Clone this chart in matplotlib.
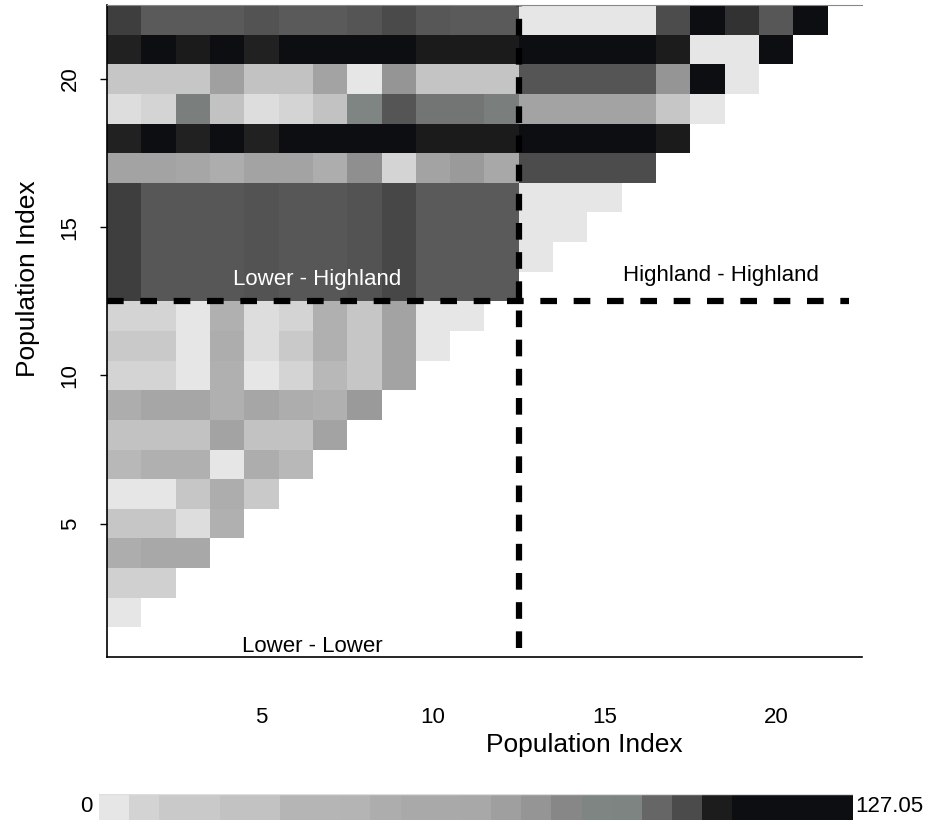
import numpy as np
import matplotlib
matplotlib.use("Agg")
import matplotlib.pyplot as plt
from matplotlib.colors import LinearSegmentedColormap

plt.rcParams['font.family'] = ['Liberation Sans', 'DejaVu Sans']
plt.rcParams['lines.scale_dashes'] = False

# pairwise values, lower triangle: row j holds columns 1..j-1
rows = [
    [2.0],
    [9.1, 9.1],
    [48.3, 64.1, 64.1],
    [20.0, 20.0, 5.0, 46.4],
    [2.0, 2.0, 20.0, 48.3, 15.0],
    [31.8, 46.4, 46.4, 2.0, 48.3, 31.8],
    [25.0, 25.0, 25.0, 66.9, 25.0, 25.0, 66.9],
    [48.3, 65.2, 65.2, 46.4, 65.2, 48.3, 46.4, 71.4],
    [7.6, 7.6, 2.0, 46.4, 2.0, 7.6, 31.8, 20.0, 66.9],
    [15.0, 15.0, 2.0, 48.3, 5.0, 15.0, 46.4, 20.0, 66.9, 2.0],
    [7.6, 7.6, 2.0, 46.4, 5.0, 7.6, 46.4, 20.0, 66.9, 2.0, 2.0],
    [100.6, 97.0, 97.0, 97.0, 97.9, 97.0, 97.0, 97.9, 99.6, 96.4, 96.4, 96.4],
    [100.6, 97.0, 97.0, 97.0, 97.9, 97.0, 97.0, 97.9, 99.6, 96.4, 96.4, 96.4, 2.0],
    [100.6, 97.0, 97.0, 97.0, 97.9, 97.0, 97.0, 97.9, 99.6, 96.4, 96.4, 96.4, 2.0, 2.0],
    [100.6, 97.0, 97.0, 97.0, 97.9, 97.0, 97.0, 97.9, 99.6, 96.4, 96.4, 96.4, 2.0, 2.0, 2.0],
    [66.9, 66.9, 65.2, 48.3, 66.9, 66.9, 48.3, 76.0, 7.6, 66.9, 71.4, 64.1,
     99.1, 99.1, 99.1, 99.1],
    [103.6, 118.0, 103.6, 118.0, 103.6, 118.0, 118.0, 118.0, 118.0, 104.4, 104.4, 104.4,
     118.0, 118.0, 118.0, 118.0, 104.4],
    [5.0, 7.6, 89.9, 25.0, 5.0, 7.6, 25.0, 86.0, 97.5, 91.5, 91.5, 89.9,
     66.9, 66.9, 66.9, 66.9, 20.0, 2.0],
    [20.0, 20.0, 20.0, 68.6, 25.0, 25.0, 66.9, 2.0, 73.7, 21.4, 21.4, 21.4,
     97.5, 97.5, 97.5, 97.5, 73.7, 118.0, 2.0],
    [103.6, 118.0, 104.4, 118.0, 103.6, 118.0, 118.0, 118.0, 118.0, 104.4, 104.4, 104.4,
     118.0, 118.0, 118.0, 118.0, 104.2, 2.0, 2.0, 118.0],
    [100.6, 96.4, 96.4, 96.4, 97.9, 96.4, 96.4, 97.5, 99.4, 97.0, 96.4, 96.4,
     2.0, 2.0, 2.0, 2.0, 99.1, 127.05, 101.8, 97.0, 120.0],
]
n_pop = 22
n_low = 12
vmax = 127.05

# legend swatch colours (light -> dark)
legend_colors = ['#e6e6e6', '#d3d3d3', '#c9c9c9', '#c9c9c9', '#c2c2c2', '#c2c2c2',
                 '#b5b5b5', '#b5b5b5', '#b5b5b5', '#adadad', '#a9a9a9', '#a9a9a9',
                 '#a9a9a9', '#a0a0a0', '#959595', '#888888', '#7f8583', '#7f8583',
                 '#666666', '#4d4d4d', '#1c1c1c', '#0d0e12', '#0d0e12', '#0d0e12',
                 '#0d0e12']
nb = len(legend_colors)
pos = [0.0] + [(k + 0.5) / nb for k in range(nb)] + [1.0]
cols = [legend_colors[0]] + legend_colors + [legend_colors[-1]]
cmap = LinearSegmentedColormap.from_list('grays', list(zip(pos, cols)), N=512)

mat = np.full((n_pop, n_pop), np.nan)
for j, r in enumerate(rows, start=2):
    mat[j - 1, :len(r)] = r
mat = np.ma.masked_invalid(mat)

fig = plt.figure(figsize=(9.29, 8.25), dpi=100)
ax = fig.add_axes([107 / 929, 1 - 657 / 825, 755 / 929, 652 / 825])
edges = np.arange(n_pop + 1) + 0.5
ax.pcolormesh(edges, edges, mat, cmap=cmap, vmin=0, vmax=vmax)
ax.set_xlim(0.5, n_pop + 0.5)
ax.set_ylim(0.5, n_pop + 0.5)

cut = n_low + 0.5
ax.plot([cut, cut], [0.8, n_pop + 0.5], color='black', lw=4.5, dashes=(12, 9))
ax.plot([0.5, 22.13], [cut, cut], color='black', lw=4.5, dashes=(12, 12))

ax.text(6.61, 13.25, 'Lower - Highland', color='white', fontsize=16, ha='center', va='center')
ax.text(18.39, 13.36, 'Highland - Highland', color='black', fontsize=16, ha='center', va='center')
ax.text(6.49, 0.85, 'Lower - Lower', color='black', fontsize=16, ha='center', va='center')

ax.set_xticks([5, 10, 15, 20])
ax.set_yticks([5, 10, 15, 20])
ax.tick_params(axis='x', length=0, pad=36, labelsize=16)
ax.tick_params(axis='y', length=5, width=1, pad=14, labelsize=16)
plt.setp(ax.get_yticklabels(), rotation=90, va='center')
ax.spines['right'].set_visible(False)
ax.spines['top'].set_color('#888888')
ax.spines['top'].set_linewidth(0.8)
for s in ['left', 'bottom']:
    ax.spines[s].set_linewidth(1.2)

ax.set_xlabel('Population Index', fontsize=19)
ax.set_ylabel('Population Index', fontsize=19)
ax.xaxis.set_label_coords(0.632, -0.135)
ax.yaxis.set_label_coords(-0.105, 0.58)
ax.xaxis.label.set_va('center')
ax.yaxis.label.set_va('center')

# colour legend
cax = fig.add_axes([99 / 929, 1 - 820 / 825, 754 / 929, 26 / 825])
swatch = ((np.arange(nb) + 0.5) * vmax / nb).reshape(1, -1)
cax.imshow(swatch, cmap=cmap, vmin=0, vmax=vmax, aspect='auto', interpolation='nearest')
cax.set_xticks([])
cax.set_yticks([])
for s in cax.spines.values():
    s.set_visible(False)
cax.axhline(-0.5, color='#dddddd', lw=1)
fig.text(93 / 929, 1 - 807 / 825, '0', fontsize=16, ha='right', va='center')
fig.text(855 / 929, 1 - 807 / 825, '127.05', fontsize=16, ha='left', va='center')

fig.savefig('out.png', dpi=100)
